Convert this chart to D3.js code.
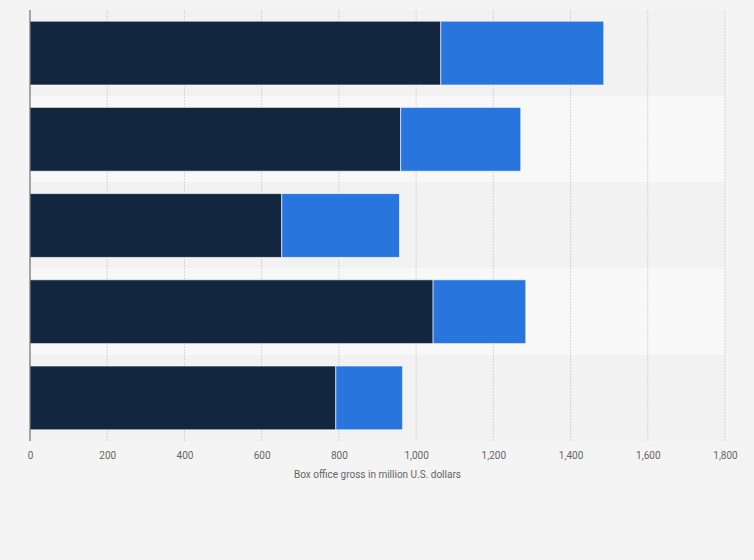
<!DOCTYPE html>
<html>
<head>
<meta charset="utf-8">
<script src="https://cdn.jsdelivr.net/npm/d3@7"></script>
<style>
  html, body { margin:0; padding:0; background:#f4f4f4; }
  svg { display:block; font-family: Roboto, "Noto Sans", sans-serif; }
</style>
</head>
<body>
<svg id="chart" width="754" height="560"></svg>
<script>
// chart data (million U.S. dollars)
const categories = ["Bar 1", "Bar 2", "Bar 3", "Bar 4", "Bar 5"];
const firstPart = [1064, 960, 652, 1044, 792];
const secondPart = [422, 311, 305, 240, 173];
const xTicks = [0, 200, 400, 600, 800, 1000, 1200, 1400, 1600, 1800];

const MARGIN = {LEFT:30, RIGHT:29, TOP:10, BOTTOM:119};
const WIDTH = 754;
const HEIGHT = 560;

let svg = d3.select("#chart");

let xScale = d3.scaleLinear()
               .domain([0, 1800])
               .range([MARGIN.LEFT, WIDTH - MARGIN.RIGHT]);

let yScale = d3.scaleBand()
               .domain(categories)
               .range([MARGIN.TOP, HEIGHT - MARGIN.BOTTOM])
               .paddingInner(0.26)
               .paddingOuter(0.13);

// row bands
let step = yScale.step();
svg.append("g")
   .selectAll("rect")
   .data(categories)
   .join("rect")
   .attr("x", MARGIN.LEFT)
   .attr("y", (d) => yScale(d) - yScale.paddingOuter() * step)
   .attr("width", xScale(1800) - MARGIN.LEFT)
   .attr("height", step)
   .attr("fill", (d, i) => i % 2 === 0 ? "#f2f2f2" : "#f8f8f8");

// gridlines
svg.append("g")
   .selectAll("line")
   .data(xTicks.slice(1))
   .join("line")
   .attr("x1", (d) => xScale(d))
   .attr("x2", (d) => xScale(d))
   .attr("y1", MARGIN.TOP)
   .attr("y2", HEIGHT - MARGIN.BOTTOM)
   .attr("stroke", "#d4d4d4")
   .attr("stroke-width", 1)
   .attr("stroke-dasharray", "2,1");

// stacked bars
let rows = categories.map((c, i) => ({cat:c, a:firstPart[i], b:secondPart[i]}));
let stack = d3.stack().keys(["a", "b"])(rows);
let colors = ["#12263f", "#2876dd"];

svg.append("g")
   .selectAll("g")
   .data(stack)
   .join("g")
   .attr("fill", (d, i) => colors[i])
   .selectAll("rect")
   .data((d) => d)
   .join("rect")
   .attr("x", (d) => xScale(d[0]))
   .attr("y", (d) => yScale(d.data.cat))
   .attr("width", (d) => xScale(d[1]) - xScale(d[0]))
   .attr("height", yScale.bandwidth())
   .attr("stroke", "rgba(255,255,255,0.6)")
   .attr("stroke-width", 1);

// y axis line
svg.append("line")
   .attr("x1", MARGIN.LEFT)
   .attr("x2", MARGIN.LEFT)
   .attr("y1", MARGIN.TOP)
   .attr("y2", HEIGHT - MARGIN.BOTTOM)
   .attr("stroke", "#555")
   .attr("stroke-width", 1);

// x axis labels
let xaxis = d3.axisBottom(xScale)
              .tickValues(xTicks)
              .tickSize(0)
              .tickPadding(6)
              .tickFormat(d3.format(","));
let gx = svg.append("g")
            .attr("transform", "translate(0," + (HEIGHT - MARGIN.BOTTOM + 5) + ")")
            .call(xaxis);
gx.select(".domain").remove();
gx.selectAll("text")
  .attr("fill", "#666")
  .style("font-size", "10px")
  .style("font-family", "Roboto, sans-serif");

// x axis title
svg.append("text")
   .attr("x", (xScale(0) + xScale(1800)) / 2)
   .attr("y", 478)
   .attr("text-anchor", "middle")
   .attr("fill", "#666")
   .style("font-size", "10px")
   .text("Box office gross in million U.S. dollars");
</script>
</body>
</html>
